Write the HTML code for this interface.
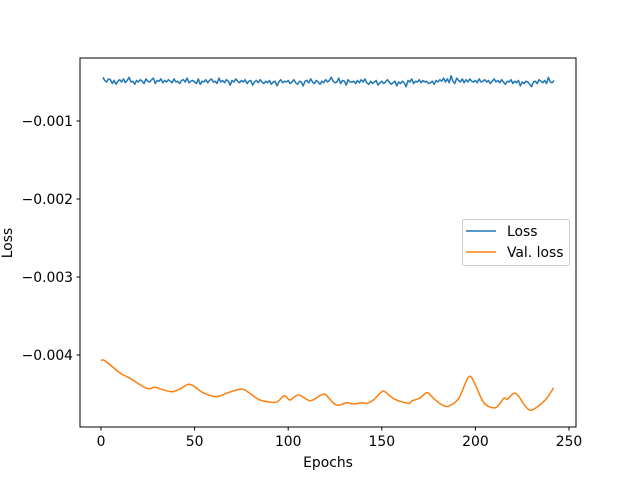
<!DOCTYPE html>
<html><head><meta charset="utf-8"><style>
body{margin:0;background:#fff}
svg text{font-family:"DejaVu Sans","Liberation Sans",sans-serif;font-size:13.9px;fill:#000}
</style></head><body>
<svg id="chart" width="640" height="480" xmlns="http://www.w3.org/2000/svg">
<rect width="640" height="480" fill="#fff"/>
<g id="plot"></g>
</svg>
<script>
const xTicks=[0,50,100,150,200,250];
const yTicks=[-0.001,-0.002,-0.003,-0.004];
const yTickLabels=["\u22120.001","\u22120.002","\u22120.003","\u22120.004"];
const valEpochs=[0,2,10,15.5,24.4,28.9,32.4,37.8,42,46.5,50,54.5,61.6,67,72.4,76,79.5,84.9,92,94.7,97.4,99,101,105.5,111.7,117,119.7,124,126.8,131.2,134.8,139.2,141.9,145.5,150,151.7,157,164.2,166,170.6,174.2,177.8,182.3,185.8,191.1,196.5,200,204.5,210.7,215.2,217,220.5,223,226.6,230.2,237.3,241.8];
const valLoss=[-0.004073,-0.004073,-0.004227,-0.004299,-0.004427,-0.004414,-0.004440,-0.004471,-0.004440,-0.004376,-0.004406,-0.004483,-0.004534,-0.004491,-0.004449,-0.004440,-0.004491,-0.004577,-0.004607,-0.004590,-0.004526,-0.004535,-0.004577,-0.004513,-0.004586,-0.004522,-0.004504,-0.004612,-0.004645,-0.004612,-0.004629,-0.004612,-0.004620,-0.004577,-0.004471,-0.004471,-0.004568,-0.004620,-0.004590,-0.004548,-0.004483,-0.004560,-0.004641,-0.004654,-0.004555,-0.004278,-0.004385,-0.004612,-0.004676,-0.004555,-0.004568,-0.004491,-0.004526,-0.004654,-0.004705,-0.004577,-0.004419];
const lossE4=[-4.4,-4.8,-5.0,-4.6,-4.7,-5.2,-4.8,-5.3,-4.9,-4.7,-5.0,-4.6,-5.1,-4.8,-4.4,-5.0,-4.9,-5.3,-4.8,-5.0,-4.7,-4.9,-5.2,-4.6,-4.9,-5.0,-4.7,-4.5,-5.2,-4.8,-4.9,-4.6,-5.1,-4.8,-5.0,-4.7,-4.9,-5.1,-4.6,-5.0,-4.9,-5.2,-4.8,-4.7,-5.0,-4.5,-5.1,-4.9,-4.8,-5.0,-5.2,-4.6,-5.3,-4.9,-5.0,-4.7,-5.1,-4.8,-4.6,-5.0,-4.9,-5.2,-4.5,-5.0,-4.8,-5.1,-4.7,-4.9,-5.4,-4.8,-5.0,-4.6,-4.9,-5.1,-4.8,-5.0,-4.7,-5.2,-4.9,-4.8,-5.4,-5.0,-4.8,-5.1,-4.7,-5.0,-5.2,-4.9,-5.1,-4.8,-5.3,-5.0,-4.9,-5.5,-5.0,-4.7,-5.1,-4.9,-5.0,-4.8,-5.2,-5.0,-4.7,-5.1,-5.3,-4.9,-5.0,-5.5,-4.9,-4.8,-5.1,-4.6,-5.0,-5.2,-4.8,-5.0,-5.3,-4.9,-5.1,-4.7,-5.0,-4.8,-4.4,-4.9,-5.1,-5.0,-4.5,-5.2,-4.8,-4.9,-5.4,-4.7,-5.0,-5.0,-4.9,-5.2,-4.8,-5.1,-4.7,-5.0,-4.6,-5.1,-5.3,-4.9,-5.2,-5.0,-4.8,-5.4,-5.1,-4.9,-5.2,-5.0,-4.7,-5.0,-5.3,-5.1,-4.9,-5.5,-5.0,-5.2,-4.9,-5.1,-5.6,-4.8,-5.0,-4.6,-5.2,-4.9,-5.0,-4.7,-5.1,-4.8,-5.0,-4.9,-5.2,-5.1,-4.9,-5.3,-4.8,-5.0,-4.7,-4.9,-4.5,-5.0,-4.6,-5.1,-4.2,-4.9,-5.2,-4.5,-4.8,-5.0,-4.6,-5.1,-4.7,-5.0,-4.6,-4.9,-5.0,-4.8,-5.1,-4.6,-5.0,-4.9,-4.7,-5.0,-4.8,-5.2,-4.9,-4.6,-5.0,-4.8,-5.1,-4.7,-5.0,-5.3,-4.9,-5.0,-4.7,-5.2,-4.9,-5.1,-4.8,-5.5,-5.0,-5.2,-4.9,-5.0,-5.3,-5.6,-5.0,-4.9,-5.2,-4.7,-4.9,-5.1,-4.8,-5.2,-4.4,-5.0,-5.1,-4.8];
const L=80,R=576,T=58,B=427;
const xs=e=>101+e*1.872;
const ys=v=>43-v*78000;
const g=document.getElementById('plot');
const NS='http://www.w3.org/2000/svg';
function mk(t,a){const e=document.createElementNS(NS,t);for(const k in a)e.setAttribute(k,a[k]);g.appendChild(e);return e;}
let d='';lossE4.forEach((v,i)=>{d+=(i?'L':'M')+xs(i+1).toFixed(2)+' '+ys(v*1e-4).toFixed(2);});
const l1=mk('path',{d:d,fill:'none',stroke:'#1f77b4','stroke-width':1.5,'stroke-linejoin':'round'});


let pts=valEpochs.map((e,i)=>[xs(e),ys(valLoss[i])]);
let d2='M'+pts[0][0]+' '+pts[0][1];
for(let i=0;i<pts.length-1;i++){const p0=pts[Math.max(0,i-1)],p1=pts[i],p2=pts[i+1],p3=pts[Math.min(pts.length-1,i+2)];
d2+='C'+(p1[0]+(p2[0]-p0[0])/6).toFixed(2)+' '+(p1[1]+(p2[1]-p0[1])/6).toFixed(2)+' '+(p2[0]-(p3[0]-p1[0])/6).toFixed(2)+' '+(p2[1]-(p3[1]-p1[1])/6).toFixed(2)+' '+p2[0].toFixed(2)+' '+p2[1].toFixed(2);}
const l2=mk('path',{d:d2,fill:'none',stroke:'#ff7f0e','stroke-width':1.5});


const fr=mk('rect',{x:L,y:T,width:R-L,height:B-T,fill:'none',stroke:'#000','stroke-width':1});


xTicks.forEach(t=>{const x=xs(t);mk('line',{x1:x,x2:x,y1:B,y2:B+3.5,stroke:'#000'});
const tx=mk('text',{x:x,y:B+19,'text-anchor':'middle'});tx.textContent=t;

});
yTicks.forEach((t,i)=>{const y=ys(t);mk('line',{x1:L-3.5,x2:L,y1:y,y2:y,stroke:'#000'});
const tx=mk('text',{x:L-7,y:y+5,'text-anchor':'end'});tx.textContent=yTickLabels[i];

});
const xl=mk('text',{x:328,y:467,'text-anchor':'middle'});xl.textContent='Epochs';


const yl=mk('text',{x:12,y:243,'text-anchor':'middle',transform:'rotate(-90 12 243)'});yl.textContent='Loss';


const lg=mk('rect',{x:462.5,y:219.5,width:107,height:46,rx:2,fill:'#fff',stroke:'#ccc'});


mk('line',{x1:466,x2:496,y1:231,y2:231,stroke:'#1f77b4','stroke-width':1.5});
mk('line',{x1:466,x2:496,y1:252,y2:252,stroke:'#ff7f0e','stroke-width':1.5});
const t1=mk('text',{x:507,y:236});t1.textContent='Loss';


const t2=mk('text',{x:507,y:257});t2.textContent='Val. loss';


</script>
</body></html>
